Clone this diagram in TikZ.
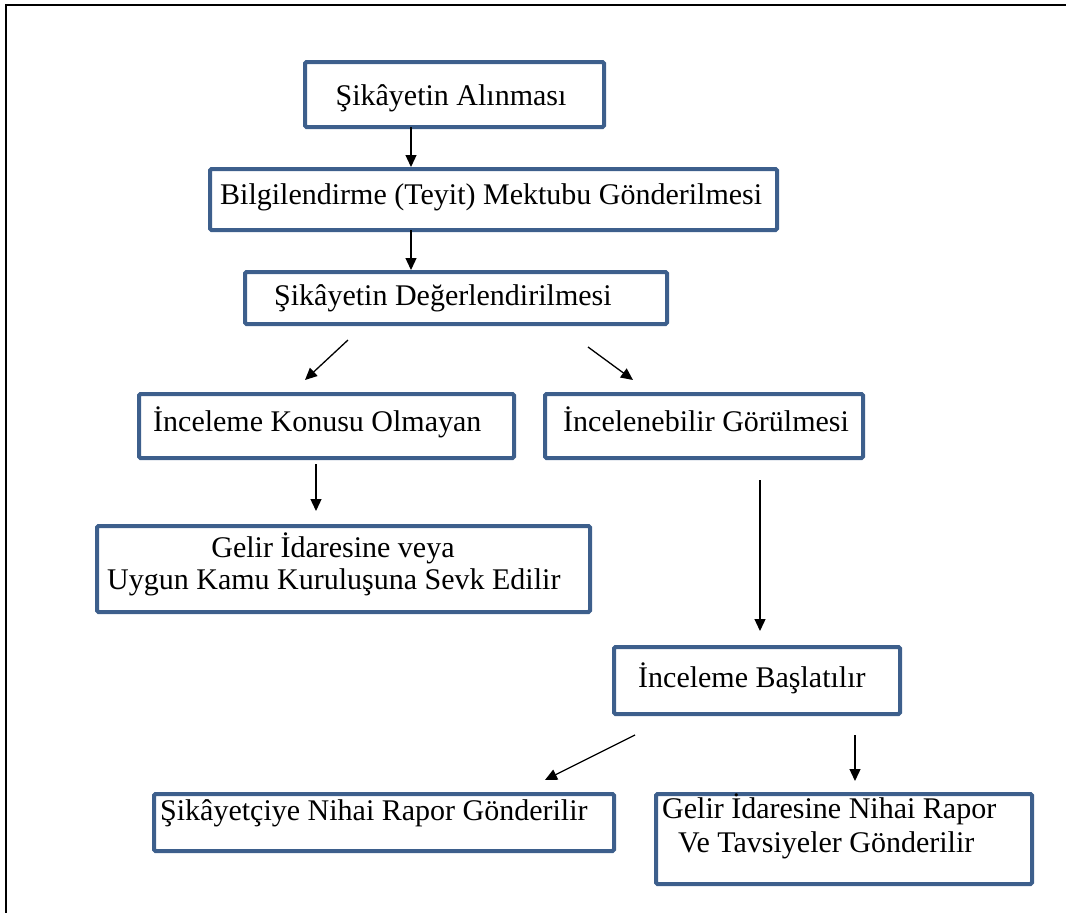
\documentclass[tikz,border=0pt]{standalone}
\usepackage{fontspec}
\setmainfont{Liberation Serif}
\usetikzlibrary{arrows.meta}
\definecolor{boxblue}{HTML}{3D5F8C}
\begin{document}
\begin{tikzpicture}[x=1pt,y=-1pt,
  box/.style={draw=boxblue,line width=4pt,rounded corners=1.5pt,inner sep=0pt,anchor=north west},
  txt/.style={inner sep=0pt,font=\fontsize{30}{36}\selectfont},
  arr/.style={-{Triangle[length=12pt,width=11pt]},line width=1.3pt,black}]
\useasboundingbox (0,0) rectangle (1071,913);
% outer frame
\draw[line width=1.5pt] (6,913) -- (6,5) -- (1066,5);

% boxes
\node[box,minimum width=299pt,minimum height=65pt] (b1) at (303,60) {};
\node[box,minimum width=567pt,minimum height=61pt] (b2) at (208,167) {};
\node[box,minimum width=422pt,minimum height=52pt] (b3) at (243,270) {};
\node[box,minimum width=375pt,minimum height=64pt] (b4) at (137,392) {};
\node[box,minimum width=318pt,minimum height=64pt] (b5) at (543,392) {};
\node[box,minimum width=493pt,minimum height=86pt] (b6) at (95,524) {};
\node[box,minimum width=286pt,minimum height=67pt] (b7) at (612,645) {};
\node[box,minimum width=460pt,minimum height=57pt] (b8) at (152,792) {};
\node[box,minimum width=376pt,minimum height=90pt] (b9) at (654,792) {};

% texts
\node[txt,anchor=base] (t1) at (451,105) {Şikâyetin Alınması};
\node[txt,anchor=base west] (t2) at (220,204) {Bilgilendirme (Teyit) Mektubu Gönderilmesi};
\node[txt,anchor=base west] (t3) at (274,305) {Şikâyetin Değerlendirilmesi};
\node[txt,anchor=base west] (t4) at (153,431) {İnceleme Konusu Olmayan};
\node[txt,anchor=base west] (t5) at (563,431) {İncelenebilir Görülmesi};
\node[txt,anchor=base] (t6a) at (333,557) {Gelir İdaresine veya};
\node[txt,anchor=base west] (t6b) at (107,589) {Uygun Kamu Kuruluşuna Sevk Edilir};
\node[txt,anchor=base west] (t7) at (638,687) {İnceleme Başlatılır};
\node[txt,anchor=base west] (t8) at (160,820) {Şikâyetçiye Nihai Rapor Gönderilir};
\node[txt,anchor=base west] (t9a) at (662,818) {Gelir İdaresine Nihai Rapor};
\node[txt,anchor=base west] (t9b) at (678,852) {Ve Tavsiyeler Gönderilir};

% connector end points
\coordinate (s1) at (411,127);
\coordinate (s2) at (411,230);
\coordinate (s3) at (348,340);
\coordinate (e3) at (305,380);
\coordinate (s4) at (588,347);
\coordinate (e4) at (633,380);
\coordinate (s5) at (316,464);
\coordinate (e5) at (316,511);
\coordinate (s6) at (760,480);
\coordinate (e6) at (760,631);
\coordinate (s7) at (635,735);
\coordinate (e7) at (545,780);
\coordinate (s8) at (855,735);
\coordinate (e8) at (855,781);

% connectors
\draw[arr] (s1) -- (s1 |- b2.north);
\draw[arr] (s2) -- (s2 |- b3.north);
\draw[arr] (s3) -- (e3);
\draw[arr] (s4) -- (e4);
\draw[arr] (s5) -- (e5);
\draw[arr] (s6) -- (e6);
\draw[arr] (s7) -- (e7);
\draw[arr] (s8) -- (e8);
\end{tikzpicture}
\end{document}
